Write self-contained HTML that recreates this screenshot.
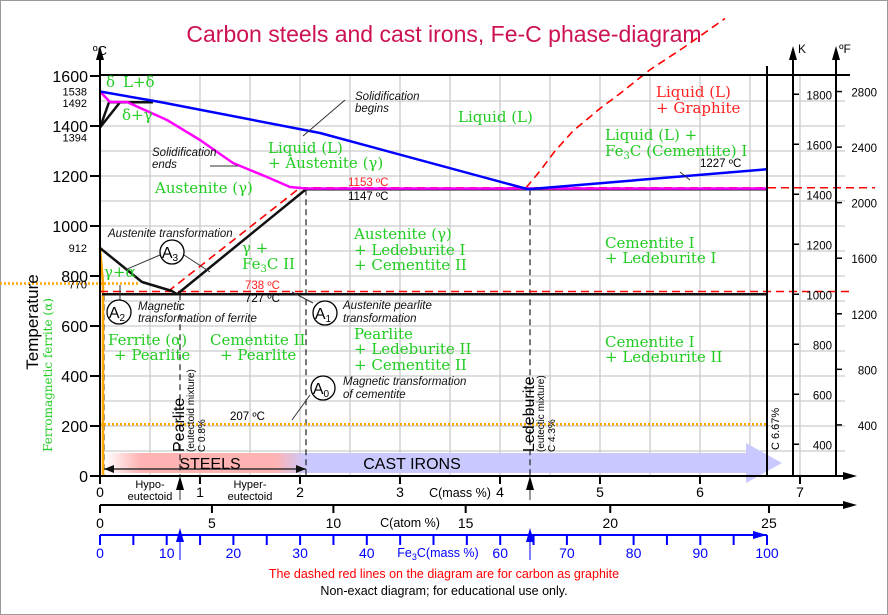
<!DOCTYPE html>
<html><head><meta charset="utf-8"><style>
body{margin:0;background:#fff;width:888px;height:615px;overflow:hidden}
svg{display:block;font-family:"Liberation Sans",sans-serif}
.g{font-family:"DejaVu Serif","Liberation Serif",serif;fill:#22cc22;font-size:15px}
.it{font-style:italic;font-size:11.5px;fill:#111}
</style></head><body>
<svg id="chart" width="888" height="615" viewBox="0 0 888 615" xmlns="http://www.w3.org/2000/svg">
<defs>
<linearGradient id="steelG" x1="0" x2="1"><stop offset="0" stop-color="#fff"/><stop offset="0.18" stop-color="#ffb3b3"/><stop offset="0.85" stop-color="#ffb3b3"/><stop offset="1" stop-color="#c9c9ff"/></linearGradient>
</defs>
<rect x="0.5" y="0.5" width="887" height="614" fill="#fff" stroke="#999"/>
<text x="444" y="42" text-anchor="middle" font-size="23" fill="#cc1155">Carbon steels and cast irons, Fe-C phase-diagram</text>
<g id="grid"></g>
<g id="bands">
<rect x="104" y="453" width="202" height="20" fill="url(#steelG)"/>
<rect x="306" y="453" width="440" height="20" fill="#c9c9ff"/>
<polygon points="746,443 782,463 746,483" fill="#c9c9ff"/>
<line x1="104" y1="469" x2="306" y2="469" stroke="#333" stroke-width="1.5"/>
<polygon points="104,469 114,465 114,473" fill="#111"/><polygon points="306,469 296,465 296,473" fill="#111"/>
<text x="210" y="469" font-size="16" text-anchor="middle">STEELS</text>
<text x="412" y="469" font-size="16" text-anchor="middle">CAST IRONS</text>
</g>
<g id="lines"></g>
<g id="axes"></g>
<g id="labels">
<text class="g" x="106" y="87" font-size="14">δ</text>
<text class="g" x="123" y="87" font-size="14">L+δ</text>
<text class="g" x="122" y="120" font-size="14">δ+γ</text>
<text class="g" x="458" y="122">Liquid (L)</text>
<text class="g" x="268" y="153">Liquid (L)</text>
<text class="g" x="268" y="168">+ Austenite (γ)</text>
<text class="g" x="155" y="193">Austenite (γ)</text>
<text class="g" x="605" y="140">Liquid (L) +</text>
<text class="g" x="605" y="156">Fe<tspan font-size="10" dy="3">3</tspan><tspan dy="-3">C (Cementite) I</tspan></text>
<text x="656" y="97" font-family="DejaVu Serif,Liberation Serif,serif" font-size="15" fill="#ff2222">Liquid (L)</text>
<text x="656" y="113" font-family="DejaVu Serif,Liberation Serif,serif" font-size="15" fill="#ff2222">+ Graphite</text>
<text class="g" x="242" y="253">γ +</text>
<text class="g" x="242" y="269">Fe<tspan font-size="10" dy="3">3</tspan><tspan dy="-3">C II</tspan></text>
<text class="g" x="354" y="239">Austenite (γ)</text>
<text class="g" x="354" y="255">+ Ledeburite I</text>
<text class="g" x="354" y="270">+ Cementite II</text>
<text class="g" x="605" y="248">Cementite I</text>
<text class="g" x="605" y="263">+ Ledeburite I</text>
<text class="g" x="104" y="277" font-size="13">γ+α</text>
<text class="g" x="108" y="345">Ferrite (α)</text>
<text class="g" x="114" y="360">+ Pearlite</text>
<text class="g" x="210" y="345">Cementite II</text>
<text class="g" x="220" y="360">+ Pearlite</text>
<text class="g" x="354" y="339">Pearlite</text>
<text class="g" x="354" y="354">+ Ledeburite II</text>
<text class="g" x="354" y="370">+ Cementite II</text>
<text class="g" x="605" y="347">Cementite I</text>
<text class="g" x="605" y="362">+ Ledeburite II</text>
<text class="it" x="355" y="100">Solidification</text><text class="it" x="355" y="112">begins</text>
<text class="it" x="152" y="156">Solidification</text><text class="it" x="152" y="168">ends</text>
<text class="it" x="108" y="237">Austenite transformation</text>
<text class="it" x="138" y="310">Magnetic</text><text class="it" x="138" y="322">transformation of ferrite</text>
<text class="it" x="343" y="309">Austenite pearlite</text><text class="it" x="343" y="322">transformation</text>
<text class="it" x="343" y="385">Magnetic transformation</text><text class="it" x="343" y="398">of cementite</text>
<text x="348" y="186" font-size="11.5" fill="#ff2222">1153 ºC</text>
<text x="348" y="200" font-size="11.5">1147 ºC</text>
<text x="245" y="289" font-size="11.5" fill="#ff2222">738 ºC</text>
<text x="245" y="302" font-size="11.5">727 ºC</text>
<text x="230" y="420" font-size="11.5">207 ºC</text>
<text x="700" y="167" font-size="11.5">1227 ºC</text>
<g transform="translate(184,452) rotate(-90)"><text font-size="16">Pearlite</text><text y="10" font-size="10">(eutectoid mixture)</text><text y="21" font-size="10">C 0.8%</text></g>
<g transform="translate(534,452) rotate(-90)"><text font-size="16">Ledeburite</text><text y="10" font-size="10">(eutectic mixture)</text><text y="21" font-size="10">C 4.3%</text></g>
<g transform="translate(779,450) rotate(-90)"><text font-size="11">C 6.67%</text></g>
<g transform="translate(38,322) rotate(-90)"><text font-size="17" text-anchor="middle">Temperature</text></g>
<g transform="translate(52,375) rotate(-90)"><text font-size="12" text-anchor="middle" fill="#22cc22" font-family="DejaVu Serif,serif">Ferromagnetic ferrite (α)</text></g>
</g>
<g id="circles"></g>
<text x="444" y="578" text-anchor="middle" font-size="12.5" fill="#ff0000">The dashed red lines on the diagram are for carbon as graphite</text>
<text x="444" y="595" text-anchor="middle" font-size="12.5">Non-exact diagram; for educational use only.</text>
<script>
const massTicks=[0,1,2,3,4,5,6,7];
const atomTicks=[0,5,10,15,20,25];
const fe3cTicks=[0,10,20,30,40,50,60,70,80,90,100];
const tempTicks=[0,200,400,600,800,1000,1200,1400,1600];
const kelvinTicks=[400,600,800,1000,1200,1400,1600,1800];
const fahrTicks=[400,800,1200,1600,2000,2400,2800];
const specialTemps=[1538,1492,1394,912,770];
const liquidusC=[0,0.6,2.2,4.28,6.67];
const liquidusT=[1538,1496,1372,1147,1227];
const solidusC=[0,0.1,0.27,0.67,1.0,1.33,1.67,1.9,2.06,6.67];
const solidusT=[1538,1496,1496,1424,1344,1252,1196,1156,1150,1150];
const a3C=[0,0.42,0.72,0.77];
const a3T=[912,776,740,727];
const acmC=[0.77,2.06];
const acmT=[727,1147];
const graphAcmC=[0.68,2.0];
const graphAcmT=[738,1153];
const graphLiqC=[4.26,4.4,4.55,4.73,5.0,5.2,5.5,5.83,6.25];
const graphLiqT=[1153,1220,1300,1380,1470,1530,1625,1712,1830];
const x=c=>100+100*c, y=t=>476-0.25*t;
const NS="http://www.w3.org/2000/svg";
function mk(parent,tag,attrs){const e=document.createElementNS(NS,tag);for(const k in attrs)e.setAttribute(k,attrs[k]);(typeof parent==='string'?document.getElementById(parent):parent).appendChild(e);return e;}
function tsp(parent,txt,attrs){const t=mk(parent,'tspan',attrs||{});t.textContent=txt;return t;}
for(let c=0.5;c<=7;c+=0.5){const l=mk('grid','line',{x1:x(c),x2:x(c),y1:75,y2:476,stroke:'#bbb','stroke-width':1});

}
for(let t=100;t<1600;t+=100){const l=mk('grid','line',{x1:100,x2:845,y1:y(t),y2:y(t),stroke:'#ccc','stroke-width':1.2});

}
function poly(cs,ts,st,w,dash,name){const p=mk('lines','polyline',{points:cs.map((c,i)=>x(c)+','+y(ts[i])).join(' '),fill:'none',stroke:st,'stroke-width':w,'stroke-dasharray':dash||'none','stroke-linejoin':'round'});

}
[[0.04,727],[0.8,727],[2.06,1147],[4.3,1147]].forEach(v=>poly([v[0],v[0]],[v[1],0],'#222',1.2,'6,4','dashed-vertical'));
poly([0,6.67],[207,207],'#ffa500',2.5,'2,2','curie-207');
mk('lines','line',{x1:0,x2:140,y1:y(770),y2:y(770),stroke:'#ffa500','stroke-width':2.5,'stroke-dasharray':'2,2'});
poly([0,0.03,0.03],[912,770,0],'#ffa500',2.5,null,'ferromagnetic-boundary');
poly([0.02,6.67],[727,727],'#111',2.5,null,'eutectoid-line');
poly([2.06,6.67],[1147,1147],'#111',2.5,null,'eutectic-line');
poly([0,7.5],[738,738],'#ff0000',1.6,'8,5','graphite-eutectoid');
poly([2.0,7.75],[1153,1153],'#ff0000',1.6,'8,5','graphite-eutectic');
poly(graphAcmC,graphAcmT,'#ff0000',1.6,'8,5','graphite-acm');
poly(graphLiqC,graphLiqT,'#ff0000',1.6,'8,5','graphite-liquidus');
poly(a3C,a3T,'#111',2.5,null,'a3-line');
poly(acmC,acmT,'#111',2.5,null,'acm-line');
poly([0,0.09],[1394,1495],'#111',2.5,null,'delta-line-1');
poly([0,0.2],[1394,1495],'#111',2.5,null,'delta-line-2');
poly([0.09,0.53],[1495,1495],'#111',2.5,null,'peritectic-line');
poly(solidusC,solidusT,'#ff00ff',2.5,null,'solidus');
poly(liquidusC,liquidusT,'#0000ff',2.5,null,'liquidus');
function L(x1,y1,x2,y2,st,w){mk('axes','line',{x1,y1,x2,y2,stroke:st||'#000','stroke-width':w||2});}
function T(px,py,s,opt){const e=mk('axes','text',Object.assign({x:px,y:py},opt||{}));e.textContent=s;return e;}
function arrowUp(px,py,col){mk('axes','polygon',{points:`${px},${py} ${px-4},${py+14} ${px+4},${py+14}`,fill:col||'#000'});}
function arrowR(px,py,col){mk('axes','polygon',{points:`${px},${py} ${px-14},${py-4} ${px-14},${py+4}`,fill:col||'#000'});}
L(100,476,100,50);arrowUp(100,46);T(100,55,'ºC',{'font-size':13,'text-anchor':'middle'});
L(100,75,850,75);L(767,66,767,476);
L(793,476,793,50);arrowUp(793,46);T(802,53,'K',{'font-size':12,'text-anchor':'middle'});
L(836,476,836,50);arrowUp(836,46);T(845,53,'ºF',{'font-size':12,'text-anchor':'middle'});
L(100,476,845,476);arrowR(857,476);
tempTicks.forEach(t=>{L(90,y(t),100,y(t));T(88,y(t)+6,String(t),{'font-size':16,'text-anchor':'end'});});
specialTemps.forEach(t=>{T(87,y(t)+(t===1394?14:(t===770?5:4)),String(t),{'font-size':11,'text-anchor':'end'});});
kelvinTicks.forEach(k=>{const py=y(k-273);L(793,py,799,py,'#000',1.5);T(832,py+5,String(k),{'font-size':11.5,'text-anchor':'end'});});
fahrTicks.forEach(f=>{const py=y((f-32)/1.8);L(836,py,842,py,'#000',1.5);T(877,py+5,String(f),{'font-size':11.5,'text-anchor':'end'});});
massTicks.forEach(c=>{L(x(c),476,x(c),484);T(x(c),497,String(c),{'font-size':14,'text-anchor':'middle'});});
T(460,497,'C(mass %)',{'font-size':12.5,'text-anchor':'middle'});
T(150,488,'Hypo-',{'font-size':11,'text-anchor':'middle'});T(150,500,'eutectoid',{'font-size':11,'text-anchor':'middle'});
T(250,488,'Hyper-',{'font-size':11,'text-anchor':'middle'});T(250,500,'eutectoid',{'font-size':11,'text-anchor':'middle'});
L(180,476,180,500,'#333',1);arrowUp(180,476);L(530,476,530,500,'#333',1);arrowUp(530,476);
const atomX=a=>x(a*12.011/(a*12.011+(100-a)*55.845)*100);
L(100,505,850,505);arrowR(857,505);
atomTicks.forEach(a=>{L(atomX(a),505,atomX(a),513);T(atomX(a),528,String(a),{'font-size':14,'text-anchor':'middle'});});
T(410,527,'C(atom %)',{'font-size':12.5,'text-anchor':'middle'});
const fx=p=>100+p*6.67;
L(100,535,767,535,'#0000ff');arrowR(767,535,'#0000ff');
for(let p=0;p<=100;p+=5){L(fx(p),535,fx(p),545,'#0000ff');}
fe3cTicks.forEach(p=>{if(p===50)return;T(fx(p),558,String(p),{'font-size':14,'text-anchor':'middle',fill:'#0000ff'});});
const fe=mk('axes','text',{x:438,y:557,'font-size':12.5,'text-anchor':'middle',fill:'#0000ff'});
tsp(fe,'Fe');tsp(fe,'3',{'font-size':9,dy:3});tsp(fe,'C(mass %)',{dy:-3});
L(180,535,180,560,'#0000ff',1);arrowUp(180,528,'#0000ff');L(530,535,530,560,'#0000ff',1);arrowUp(530,528,'#0000ff');
function circ(cx,cy,lbl,sub){mk('circles','circle',{cx,cy,r:12,fill:'#fff',stroke:'#000','stroke-width':1.3});
const t=mk('circles','text',{x:cx-2,y:cy+6,'font-size':16,'text-anchor':'middle'});tsp(t,lbl);tsp(t,sub,{'font-size':10,dy:3});}
function ar(x1,y1,x2,y2){mk('circles','line',{x1,y1,x2,y2,stroke:'#333','stroke-width':1});}
ar(160,255,125,270);ar(184,255,210,272);ar(310,395,292,420);ar(313,303,292,292);
ar(345,100,303,136);ar(210,166,238,166);ar(680,172,690,180);ar(120,302,120,285);
circ(172,252,'A','3');circ(119,312,'A','2');circ(325,313,'A','1');circ(323,388,'A','0');
</script>
</svg>
</body></html>
